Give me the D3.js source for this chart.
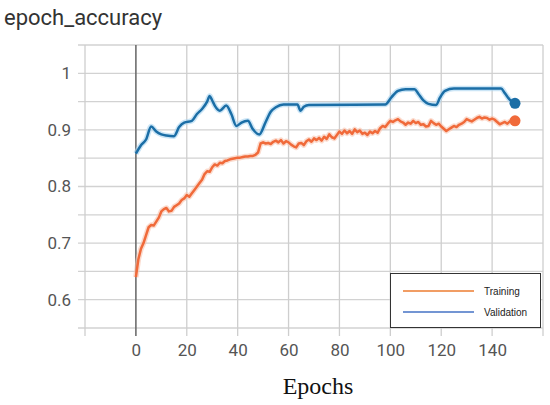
<!DOCTYPE html>
<html>
<head>
<meta charset="utf-8">
<script src="https://cdn.jsdelivr.net/npm/d3@7"></script>
<style>
  body { margin: 0; background: #fff; }
  svg { display: block; }
</style>
</head>
<body>
<script>
// training accuracy, one value per epoch (0..149)
var trainAcc = [
  0.640, 0.672, 0.690, 0.700, 0.714, 0.728, 0.732, 0.731, 0.738, 0.745,
  0.756, 0.760, 0.762, 0.756, 0.757, 0.764, 0.767, 0.770, 0.776, 0.779,
  0.785, 0.782, 0.788, 0.794, 0.800, 0.806, 0.812, 0.822, 0.827, 0.826,
  0.834, 0.839, 0.837, 0.842, 0.841, 0.845, 0.846, 0.848, 0.849, 0.850,
  0.851, 0.851, 0.852, 0.853, 0.853, 0.854, 0.854, 0.856, 0.860, 0.876,
  0.878, 0.876, 0.877, 0.875, 0.879, 0.881, 0.878, 0.882, 0.876, 0.880,
  0.878, 0.874, 0.871, 0.869, 0.876, 0.877, 0.873, 0.880, 0.883, 0.879,
  0.885, 0.882, 0.886, 0.881, 0.888, 0.884, 0.892, 0.887, 0.885, 0.891,
  0.897, 0.893, 0.899, 0.894, 0.898, 0.893, 0.901, 0.896, 0.899, 0.893,
  0.895, 0.891, 0.897, 0.894, 0.898, 0.895, 0.903, 0.907, 0.905, 0.911,
  0.916, 0.914, 0.917, 0.919, 0.915, 0.913, 0.909, 0.913, 0.911, 0.916,
  0.912, 0.914, 0.909, 0.910, 0.906, 0.907, 0.916, 0.912, 0.909, 0.911,
  0.906, 0.902, 0.898, 0.901, 0.904, 0.907, 0.905, 0.909, 0.911, 0.914,
  0.919, 0.917, 0.915, 0.918, 0.921, 0.923, 0.920, 0.922, 0.921, 0.918,
  0.920, 0.918, 0.914, 0.910, 0.912, 0.914, 0.911, 0.915, 0.917, 0.916
]

// validation accuracy, read at the turning points of the curve
var valEpochs = [0, 2, 4, 6, 8, 10, 12, 15, 17, 19, 22, 24, 26, 28, 29, 30, 31, 33, 35.5, 37.5,
  39.5, 41.5, 44, 46, 48.5, 51, 53, 55, 58, 63.5, 64.7, 66, 68, 98, 100.5, 103, 106, 109.5,
  111, 113, 115, 118, 119.5, 121.5, 125, 143.5, 145, 147, 149]
var valAcc = [0.858, 0.873, 0.883, 0.906, 0.897, 0.892, 0.890, 0.889, 0.905, 0.913, 0.916, 0.928,
  0.937, 0.950, 0.960, 0.952, 0.943, 0.934, 0.943, 0.928, 0.907, 0.913, 0.916, 0.901, 0.892,
  0.914, 0.932, 0.940, 0.945, 0.945, 0.934, 0.941, 0.944, 0.945, 0.958, 0.969, 0.972, 0.972,
  0.964, 0.952, 0.946, 0.944, 0.957, 0.969, 0.973, 0.973, 0.965, 0.953, 0.947]

var xTicks = [0, 20, 40, 60, 80, 100, 120, 140]
var xGrid = [-20, 0, 20, 40, 60, 80, 100, 120, 140, 160]
var yTicks = [0.6, 0.7, 0.8, 0.9, 1]
var yGrid = [0.55, 0.6, 0.65, 0.7, 0.75, 0.8, 0.85, 0.9, 0.95, 1, 1.05]
var legendNames = ["Training", "Validation"]

function main() {
  width = 550
  height = 405

  canvas = d3.select("body")
  .append("svg")
  .attr("width", width)
  .attr("height", height)

  x = d3.scaleLinear().domain([-20, 160]).range([85, 543])
  y = d3.scaleLinear().domain([0.55, 1.05]).range([328, 45])

  // title
  canvas.append("text")
  .attr("x", 4)
  .attr("y", 25)
  .attr("font-family", "Roboto, sans-serif")
  .attr("font-size", 22)
  .attr("fill", "#333")
  .text("epoch_accuracy")

  // grid
  grid = canvas.append("g").attr("class", "grid")
  grid.selectAll("line.h")
  .data(yGrid)
  .enter()
  .append("line")
  .attr("class", "h")
  .attr("x1", 78).attr("x2", 543)
  .attr("y1", function(d) {return y(d)})
  .attr("y2", function(d) {return y(d)})
  .attr("stroke", "#d2d2d2")
  .attr("stroke-width", 1.3)

  grid.selectAll("line.v")
  .data(xGrid)
  .enter()
  .append("line")
  .attr("class", "v")
  .attr("y1", 45).attr("y2", 336)
  .attr("x1", function(d) {return x(d)})
  .attr("x2", function(d) {return x(d)})
  .attr("stroke", function(d) {return d == 0 ? "#6e6e6e" : "#cecece"})
  .attr("stroke-width", function(d) {return d == 0 ? 1.6 : 1.3})

  // axes (labels only, lines come from the grid)
  var yAxis = canvas.append("g")
  .attr("transform", "translate(74,0)")
  .call(d3.axisLeft(y).tickValues(yTicks).tickSize(0).tickFormat(d3.format("")))
  var xAxis = canvas.append("g")
  .attr("transform", "translate(0,341)")
  .call(d3.axisBottom(x).tickValues(xTicks).tickSize(0))
  ;[yAxis, xAxis].forEach(function(a) {
    a.select(".domain").remove()
    a.selectAll("text")
    .attr("font-family", "Roboto, sans-serif")
    .attr("font-size", 17)
    .attr("fill", "#555")
  })

  // series
  var trainLine = d3.line()
  .x(function(d, i) {return x(i)})
  .y(function(d) {return y(d)})
  var valLine = d3.line()
  .curve(d3.curveMonotoneX)
  .x(function(d, i) {return x(valEpochs[i])})
  .y(function(d) {return y(d)})

  var series = [
    {values: trainAcc, line: trainLine, color: "#f06a3a", halo: "#f8c3ad", last: trainAcc.length - 1},
    {values: valAcc, line: valLine, color: "#1b6ea6", halo: "#a9d3f0", last: valEpochs[valEpochs.length - 1]}
  ]

  series.forEach(function(s) {
    canvas.append("path")
    .attr("d", s.line(s.values))
    .attr("fill", "none")
    .attr("stroke", s.halo)
    .attr("stroke-width", 5.5)
    .attr("opacity", 0.6)
    .attr("stroke-linejoin", "round")
    canvas.append("path")
    .attr("d", s.line(s.values))
    .attr("fill", "none")
    .attr("stroke", s.color)
    .attr("stroke-width", 2.5)
    .attr("stroke-linejoin", "round")
    canvas.append("circle")
    .attr("cx", x(s.last))
    .attr("cy", y(s.values[s.values.length - 1]))
    .attr("r", 5.5)
    .attr("fill", s.color)
  })

  // x label
  canvas.append("text")
  .attr("x", 318)
  .attr("y", 394)
  .attr("text-anchor", "middle")
  .attr("font-family", "'Liberation Serif', serif")
  .attr("font-size", 24)
  .attr("fill", "#111")
  .text("Epochs")

  // legend
  legend = canvas.append("g").attr("class", "legend")
  legend.append("rect")
  .attr("x", 390.5).attr("y", 273.5)
  .attr("width", 150).attr("height", 54)
  .attr("fill", "#fff")
  .attr("stroke", "#333")
  .attr("stroke-width", 1)
  var legendColors = ["#ed7d31", "#4472c4"]
  legend.selectAll("line")
  .data(legendNames)
  .enter()
  .append("line")
  .attr("x1", 403).attr("x2", 474)
  .attr("y1", function(d, i) {return 291 + i * 21})
  .attr("y2", function(d, i) {return 291 + i * 21})
  .attr("stroke", function(d, i) {return legendColors[i]})
  .attr("stroke-width", 1.5)
  legend.selectAll("text")
  .data(legendNames)
  .enter()
  .append("text")
  .attr("x", 484)
  .attr("y", function(d, i) {return 295 + i * 21})
  .attr("font-family", "'Liberation Sans', sans-serif")
  .attr("font-size", 10)
  .attr("fill", "#222")
  .text(function(d) {return d})
}

main()
</script>
</body>
</html>
